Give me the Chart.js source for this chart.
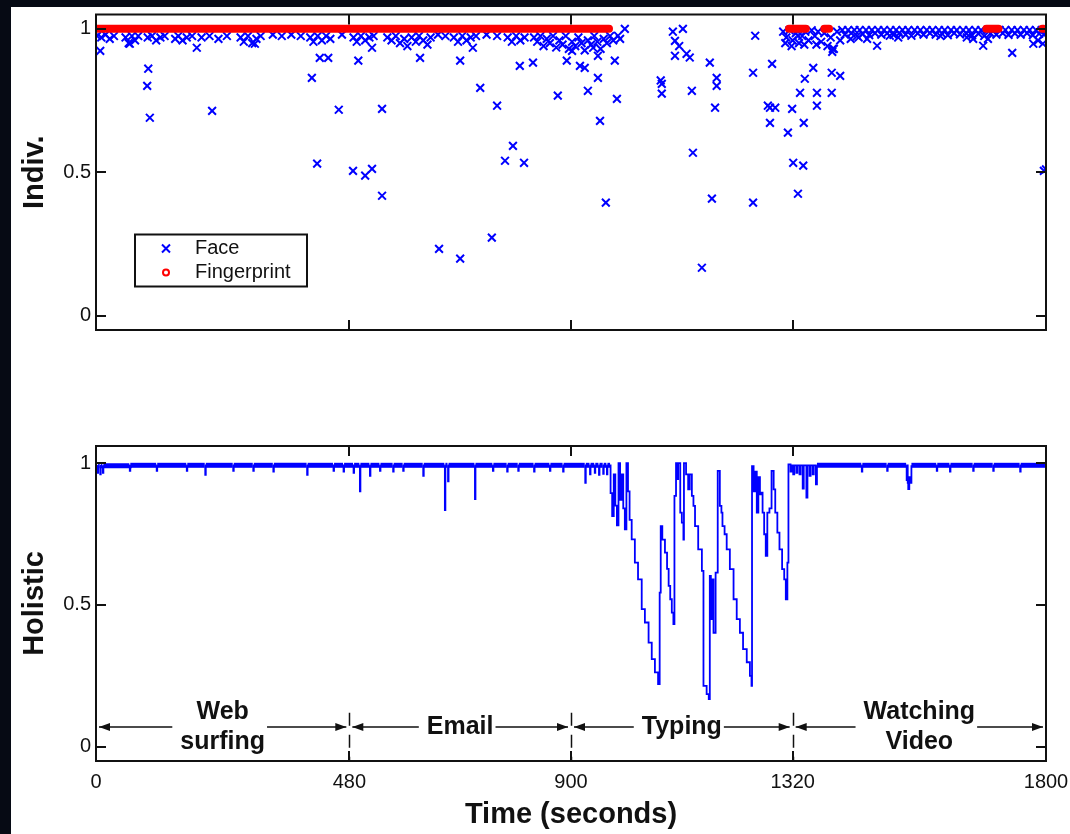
<!DOCTYPE html>
<html>
<head>
<meta charset="utf-8">
<script src="https://cdn.jsdelivr.net/npm/chart.js@4.4.1/dist/chart.umd.min.js"></script>
<style>
  body { margin: 0; background: #060a14; width: 1070px; height: 834px; overflow: hidden; }
  #paper { position: absolute; left: 11px; top: 7px; width: 1059px; height: 827px; background: #fff; }
  canvas { position: absolute; left: 11px; }
  #indiv { top: 7px; }
  #holistic { top: 400px; }
</style>
</head>
<body>
<div id="paper"></div>
<canvas id="indiv" width="1059" height="333"></canvas>
<canvas id="holistic" width="1059" height="434"></canvas>
<script>
// axis ticks
const xTicks = [0, 480, 900, 1320, 1800];
const yTicks = [0, 0.5, 1];

// activity phases (seconds)
const phaseEdges = [0, 480, 900, 1320, 1800];
const phaseNames = [['Web', 'surfing'], ['Email'], ['Typing'], ['Watching', 'Video']];
const phaseLevel = 0.07;

// fingerprint: runs of continuous readings at 1
const fingerprintRuns = [[0, 972], [1313, 1345], [1380, 1389], [1687, 1710], [1793, 1796]];

// face: individual scores [time, score]
const facePoints = [
  // band just under the fingerprint bar
  [2,0.975],[10,0.97],[18,0.98],[26,0.965],[34,0.975],[56,0.97],[62,0.95],[68,0.975],[74,0.96],[80,0.975],
  [98,0.97],[106,0.975],[114,0.96],[122,0.97],[130,0.975],[150,0.965],[156,0.975],[164,0.96],[172,0.97],[182,0.975],
  [200,0.97],[215,0.975],[232,0.965],[248,0.975],[274,0.97],[280,0.955],[288,0.975],[296,0.95],[304,0.965],[312,0.975],
  [335,0.98],[352,0.975],[370,0.98],[388,0.975],[406,0.97],[412,0.955],[420,0.975],[428,0.96],[436,0.975],[444,0.965],
  [466,0.98],[488,0.97],[494,0.955],[502,0.975],[510,0.96],[518,0.97],[526,0.975],[552,0.97],[560,0.96],[568,0.975],
  [576,0.95],[584,0.965],[590,0.94],[598,0.97],[606,0.955],[612,0.975],[620,0.96],[628,0.945],[634,0.97],[648,0.98],
  [662,0.975],[678,0.97],[686,0.955],[694,0.975],[702,0.96],[710,0.97],[720,0.975],[740,0.98],[760,0.975],[780,0.97],
  [788,0.955],[796,0.975],[804,0.96],[812,0.97],[830,0.97],[836,0.955],[842,0.975],[848,0.94],[854,0.965],[860,0.95],
  [866,0.975],[872,0.935],[878,0.96],[884,0.945],[890,0.975],[896,0.93],[902,0.955],[908,0.94],[914,0.97],[920,0.95],
  [926,0.925],[932,0.96],[938,0.945],[944,0.975],[950,0.955],[956,0.93],[962,0.965],[968,0.95],[974,0.975],[980,0.96],
  // drops during web surfing / email
  [8,0.923],[64,0.948],[97,0.801],[99,0.861],[102,0.69],[191,0.934],[220,0.714],[301,0.948],[409,0.829],[419,0.53],
  [424,0.899],[440,0.899],[460,0.718],[487,0.505],[497,0.889],[510,0.488],[523,0.512],[523,0.934],[542,0.721],[542,0.418],
  [614,0.899],[650,0.233],[690,0.889],[690,0.199],[714,0.934],[728,0.794],[750,0.272],[760,0.732],[775,0.54],[790,0.592],
  [803,0.871],[811,0.533],[828,0.882],[875,0.767],[892,0.889],[902,0.923],[917,0.871],[926,0.864],[932,0.784],[942,0.934],
  [951,0.906],[951,0.829],[955,0.679],[966,0.394],[983,0.889],[987,0.756],[989,0.976],[993,0.965],[1002,1.0],
  // typing
  [1070,0.82],[1072,0.808],[1072,0.774],[1093,0.99],[1097,0.958],[1097,0.906],[1105,0.94],[1112,1.0],[1119,0.913],[1125,0.9],
  [1129,0.784],[1131,0.568],[1148,0.167],[1163,0.882],[1167,0.408],[1173,0.725],[1176,0.829],[1176,0.801],
  [1245,0.847],[1245,0.394],[1249,0.976],[1273,0.732],[1277,0.725],[1277,0.672],[1281,0.878],[1287,0.725],[1311,0.638],
  [1319,0.721],[1321,0.533],[1330,0.425],[1334,0.777],[1340,0.523],[1341,0.672],[1343,0.826],[1359,0.864],[1366,0.777],
  [1366,0.732],[1394,0.777],[1394,0.847],[1396,0.93],[1410,0.836],
  // watching video
  [1302,0.99],[1306,0.95],[1308,0.97],[1314,0.995],[1318,0.94],[1320,0.96],[1326,0.985],[1330,0.975],[1332,0.95],[1338,0.975],
  [1342,0.945],[1344,0.99],[1350,0.96],[1356,0.995],[1362,0.975],[1365,0.945],[1368,0.99],[1374,0.955],[1380,0.985],[1386,0.94],
  [1392,0.97],[1395,0.92],[1398,0.93],[1404,0.99],[1410,0.96],
  [1414,0.996],[1425,0.996],[1437,0.996],[1447,0.996],[1459,0.996],[1470,0.996],[1482,0.996],[1493,0.996],[1505,0.996],[1516,0.996],
  [1528,0.996],[1539,0.996],[1551,0.996],[1562,0.996],[1574,0.996],[1585,0.996],[1597,0.996],[1608,0.996],[1620,0.996],[1631,0.996],
  [1643,0.996],[1654,0.996],[1666,0.996],[1677,0.996],[1689,0.996],[1700,0.996],[1712,0.996],[1723,0.996],[1735,0.996],[1746,0.996],
  [1758,0.996],[1769,0.996],[1781,0.996],[1792,0.996],[1799,0.996],
  [1419,0.98],[1431,0.985],[1442,0.975],[1453,0.982],[1465,0.978],[1476,0.985],[1488,0.98],[1499,0.984],[1511,0.979],[1522,0.985],
  [1534,0.98],[1545,0.976],[1557,0.984],[1568,0.98],[1580,0.985],[1591,0.98],[1603,0.983],[1614,0.978],[1626,0.985],[1637,0.981],
  [1649,0.984],[1660,0.977],[1672,0.983],[1683,0.975],[1695,0.984],[1706,0.98],[1718,0.985],[1729,0.979],[1741,0.984],[1752,0.98],
  [1764,0.985],[1775,0.978],[1787,0.983],[1796,0.98],
  [1430,0.965],[1445,0.97],[1461,0.965],[1480,0.941],[1504,0.976],[1520,0.97],[1600,0.975],[1650,0.97],[1662,0.965],[1681,0.941],
  [1690,0.965],[1736,0.916],[1776,0.948],[1785,0.96],[1794,0.948],[1796,0.505],[1800,0.51]
];

// holistic score [time, score], stepped
const holisticPoints = [
  [0,0.99],[2,0.99],[3,0.965],[4,0.99],[7,0.99],[8,0.96],[9,0.99],[12,0.99],[13,0.965],[14,0.99],
  [63,0.992],[64,0.972],[65,0.992],[114,0.992],[115,0.972],[116,0.992],[171,0.992],[172,0.972],[173,0.992],
  [206,0.992],[207,0.958],[208,0.992],[259,0.992],[260,0.972],[261,0.992],[297,0.992],[298,0.972],[299,0.992],
  [335,0.992],[336,0.97],[337,0.992],[399,0.992],[400,0.958],[401,0.992],[449,0.992],[450,0.972],[451,0.992],
  [468,0.992],[469,0.97],[470,0.992],[487,0.992],[488,0.965],[489,0.992],[499,0.992],[500,0.9],[501,0.992],
  [518,0.992],[519,0.955],[520,0.992],[537,0.992],[538,0.972],[539,0.992],[562,0.992],[563,0.97],[564,0.992],
  [581,0.992],[582,0.972],[583,0.992],[619,0.992],[620,0.955],[621,0.992],[660,0.992],[661,0.834],[662,0.992],
  [666,0.992],[667,0.935],[668,0.992],[717,0.992],[718,0.873],[719,0.992],[751,0.992],[752,0.972],[753,0.992],
  [778,0.992],[779,0.97],[780,0.992],[799,0.992],[800,0.972],[801,0.992],[829,0.992],[830,0.97],[831,0.992],
  [859,0.992],[860,0.972],[861,0.992],[884,0.992],[885,0.97],[886,0.992],[926,0.992],[927,0.93],[928,0.992],
  [935,0.992],[936,0.96],[937,0.992],[944,0.992],[945,0.965],[946,0.992],[952,0.992],[953,0.958],[954,0.992],
  [960,0.992],[961,0.962],[962,0.992],[967,0.992],[968,0.96],[969,0.992],[974,0.992],
  // typing
  [975,0.894],[978,0.813],[981,0.96],[984,0.85],[987,0.78],[990,1.0],[993,0.87],[996,0.96],[999,0.84],[1002,0.766],
  [1005,1.0],[1008,0.9],[1011,0.8],[1015,0.731],[1021,0.649],[1027,0.59],[1034,0.485],[1040,0.438],[1047,0.367],
  [1053,0.309],[1059,0.262],[1065,0.221],[1068,0.543],[1070,0.778],[1073,0.73],[1078,0.684],[1082,0.627],[1085,0.567],
  [1088,0.52],[1091,0.473],[1094,0.432],[1096,0.884],[1099,1.0],[1101,0.943],[1103,1.0],[1107,0.825],[1110,0.79],
  [1113,0.73],[1114,1.0],[1118,0.96],[1122,0.907],[1125,0.96],[1129,0.884],[1132,0.849],[1135,0.778],[1141,0.696],
  [1148,0.62],[1151,0.215],[1157,0.186],[1161,0.168],[1163,0.602],[1165,0.45],[1167,0.59],[1170,0.402],[1174,0.614],
  [1178,0.972],[1182,0.849],[1185,0.825],[1187,0.778],[1191,0.749],[1195,0.696],[1201,0.626],[1208,0.52],[1214,0.45],
  [1220,0.402],[1226,0.344],[1233,0.298],[1239,0.25],[1242,0.215],[1243,0.989],[1246,0.9],[1249,0.97],[1252,0.825],
  [1255,0.95],[1258,0.89],[1261,0.896],[1263,0.825],[1266,0.749],[1269,0.673],[1272,0.825],[1276,0.84],[1280,0.972],
  [1284,0.907],[1287,0.825],[1291,0.755],[1295,0.696],[1300,0.626],[1304,0.59],[1307,0.52],[1310,0.649],[1312,0.995],
  // watching video
  [1316,0.97],[1318,0.992],[1321,0.96],[1323,0.992],[1327,0.965],[1329,0.992],[1333,0.96],[1335,0.992],[1339,0.91],
  [1341,0.992],[1346,0.878],[1348,0.992],[1352,0.955],[1354,0.992],[1358,0.96],[1360,0.992],[1364,0.925],[1366,0.992],
  [1450,0.992],[1451,0.97],[1452,0.992],[1498,0.992],[1499,0.972],[1500,0.992],
  [1535,0.992],[1536,0.94],[1537,0.992],[1538,0.93],[1539,0.908],[1541,0.95],[1543,0.93],[1545,0.992],
  [1592,0.992],[1593,0.972],[1594,0.992],[1617,0.992],[1618,0.97],[1619,0.992],[1661,0.992],[1662,0.972],[1663,0.992],
  [1699,0.992],[1700,0.972],[1701,0.992],[1750,0.992],[1751,0.97],[1752,0.992],[1800,0.992]
];

const FONT = "'Liberation Sans', Arial, Helvetica, sans-serif";
const INK = '#111';
const BLUE = '#0000ff';
const RED = '#ff0000';

Chart.defaults.font.family = FONT;
Chart.defaults.color = INK;

// box, inward ticks on all four sides
const framePlugin = {
  id: 'frame',
  afterDatasetsDraw(chart) {
    const { ctx, chartArea: a, scales: { x, y } } = chart;
    ctx.save();
    ctx.strokeStyle = INK;
    ctx.lineWidth = 2;
    ctx.strokeRect(a.left, a.top, a.right - a.left, a.bottom - a.top);
    ctx.beginPath();
    xTicks.forEach(v => {
      const px = Math.round(x.getPixelForValue(v));
      ctx.moveTo(px, a.top); ctx.lineTo(px, a.top + 10);
      ctx.moveTo(px, a.bottom); ctx.lineTo(px, a.bottom - 10);
    });
    yTicks.forEach(v => {
      const py = Math.round(y.getPixelForValue(v));
      ctx.moveTo(a.left, py); ctx.lineTo(a.left + 10, py);
      ctx.moveTo(a.right, py); ctx.lineTo(a.right - 10, py);
    });
    ctx.stroke();
    ctx.restore();
  }
};

// boxed legend in the lower left of the upper panel
const legendBoxPlugin = {
  id: 'legendBox',
  afterDatasetsDraw(chart) {
    const { ctx, chartArea: a } = chart;
    const bx = a.left + 39, by = a.top + 220;
    ctx.save();
    ctx.fillStyle = '#fff';
    ctx.fillRect(bx, by, 172, 52);
    ctx.strokeStyle = INK;
    ctx.lineWidth = 2;
    ctx.strokeRect(bx, by, 172, 52);
    ctx.font = '20px ' + FONT;
    ctx.textBaseline = 'middle';
    chart.data.datasets.forEach((ds, i) => {
      const cy = by + 14 + i * 24;
      const mx = bx + 31;
      ctx.strokeStyle = ds.borderColor;
      ctx.lineWidth = 2;
      ctx.beginPath();
      if (i === 0) {
        ctx.moveTo(mx - 4, cy - 4); ctx.lineTo(mx + 4, cy + 4);
        ctx.moveTo(mx + 4, cy - 4); ctx.lineTo(mx - 4, cy + 4);
      } else {
        ctx.arc(mx, cy, 3, 0, Math.PI * 2);
      }
      ctx.stroke();
      ctx.fillStyle = INK;
      ctx.fillText(ds.label, bx + 60, cy);
    });
    ctx.restore();
  }
};

// phase arrows, names and dashed boundaries in the lower panel
const phasePlugin = {
  id: 'phases',
  afterDatasetsDraw(chart) {
    const { ctx, chartArea: a, scales: { x, y } } = chart;
    const ly = Math.round(y.getPixelForValue(phaseLevel));
    ctx.save();
    ctx.strokeStyle = INK;
    ctx.fillStyle = INK;
    ctx.lineWidth = 1.5;
    // boundaries
    ctx.setLineDash([13, 9]);
    phaseEdges.slice(1, -1).forEach(v => {
      const px = Math.round(x.getPixelForValue(v)) + 0.5;
      ctx.beginPath();
      ctx.moveTo(px, y.getPixelForValue(0.12));
      ctx.lineTo(px, a.bottom);
      ctx.stroke();
    });
    ctx.setLineDash([]);
    ctx.font = 'bold 25px ' + FONT;
    ctx.textAlign = 'center';
    ctx.textBaseline = 'middle';
    const head = (tip, dir) => {
      ctx.beginPath();
      ctx.moveTo(tip, ly);
      ctx.lineTo(tip - dir * 11, ly - 4);
      ctx.lineTo(tip - dir * 11, ly + 4);
      ctx.closePath();
      ctx.fill();
    };
    phaseNames.forEach((lines, i) => {
      const x0 = x.getPixelForValue(phaseEdges[i]) + 3;
      const x1 = x.getPixelForValue(phaseEdges[i + 1]) - 3;
      const cx = (x0 + x1) / 2;
      const w = Math.max(...lines.map(t => ctx.measureText(t).width));
      ctx.beginPath();
      ctx.moveTo(x0, ly); ctx.lineTo(cx - w / 2 - 8, ly);
      ctx.moveTo(cx + w / 2 + 2, ly); ctx.lineTo(x1, ly);
      ctx.stroke();
      head(x0, -1);
      head(x1, 1);
      if (lines.length === 1) {
        ctx.fillText(lines[0], cx, ly);
      } else {
        ctx.fillText(lines[0], cx, ly - 15);
        ctx.fillText(lines[1], cx, ly + 15);
      }
    });
    ctx.restore();
  }
};

function yScale(title, max) {
  return {
    min: -0.05,
    max: max,
    afterBuildTicks: s => { s.ticks = yTicks.map(v => ({ value: v })); },
    afterFit: s => { s.width = 85; s.paddingTop = 0; s.paddingBottom = 0; },
    grid: { display: false, drawTicks: false },
    border: { display: false },
    ticks: { padding: 5, color: INK, font: { size: 20 }, callback: v => String(v) },
    title: { display: true, text: title, color: INK, font: { size: 29, weight: 'bold' }, padding: { top: 7 } }
  };
}

// upper panel: individual modalities
new Chart(document.getElementById('indiv'), {
  type: 'scatter',
  data: {
    datasets: [
      {
        label: 'Face',
        data: facePoints.map(([t, v]) => ({ x: t, y: v })),
        pointStyle: 'crossRot',
        pointRadius: 5.5,
        pointBorderWidth: 2,
        borderColor: BLUE,
        backgroundColor: BLUE,
        order: 2
      },
      {
        label: 'Fingerprint',
        type: 'line',
        data: fingerprintRuns.flatMap(([s, e]) => [{ x: s, y: 1 }, { x: e, y: 1 }, { x: e, y: null }]),
        borderColor: RED,
        backgroundColor: RED,
        borderWidth: 8,
        borderCapStyle: 'round',
        pointRadius: 0,
        spanGaps: false,
        order: 1
      }
    ]
  },
  options: {
    responsive: false,
    animation: false,
    devicePixelRatio: 1,
    layout: { padding: { left: 0, top: 7, right: 24, bottom: 10 } },
    plugins: { legend: { display: false }, tooltip: { enabled: false } },
    scales: {
      x: { type: 'linear', min: 0, max: 1800, display: false },
      y: yScale('Indiv.', 1.05)
    }
  },
  plugins: [framePlugin, legendBoxPlugin]
});

// lower panel: holistic score
new Chart(document.getElementById('holistic'), {
  type: 'line',
  data: {
    datasets: [{
      label: 'Holistic',
      data: holisticPoints.map(([t, v]) => ({ x: t, y: v })),
      stepped: true,
      borderColor: BLUE,
      borderWidth: 1.8,
      pointRadius: 0,
      segment: {
        borderWidth: c => (c.p0.parsed.y >= 0.975 && c.p1.parsed.y >= 0.975) ? 5 : 1.8
      }
    }]
  },
  options: {
    responsive: false,
    animation: false,
    devicePixelRatio: 1,
    layout: { padding: { left: 0, top: 46, right: 24, bottom: 0 } },
    plugins: { legend: { display: false }, tooltip: { enabled: false } },
    scales: {
      x: {
        type: 'linear',
        min: 0,
        max: 1800,
        afterBuildTicks: s => { s.ticks = xTicks.map(v => ({ value: v })); },
        afterFit: s => { s.height = 73; s.paddingLeft = 0; s.paddingRight = 0; },
        grid: { display: false, drawTicks: false },
        border: { display: false },
        ticks: { padding: 9, maxRotation: 0, autoSkip: false, color: INK, font: { size: 20 }, callback: v => String(v) },
        title: { display: true, text: 'Time (seconds)', color: INK, font: { size: 29, weight: 'bold' }, padding: { bottom: 2 } }
      },
      y: yScale('Holistic', 1.06)
    }
  },
  plugins: [framePlugin, phasePlugin]
});
</script>
</body>
</html>
